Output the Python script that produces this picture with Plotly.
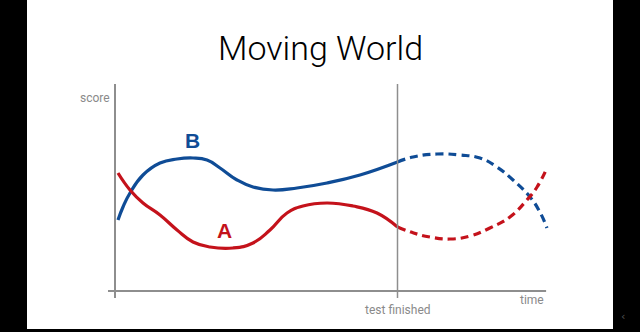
import plotly.graph_objects as go

# time units: 0 = y axis, 10 = "test finished"; score units: 0 = x axis
b_solid_t = [0.106, 0.283, 0.531, 0.991, 1.593, 2.195, 2.761, 3.257, 3.717, 4.319, 4.885, 5.593, 6.442, 7.504, 8.673, 10.0]
b_solid_s = [7.1, 8.4, 9.8, 11.6, 12.8, 13.2, 13.3, 13.1, 12.3, 11.1, 10.4, 10.1, 10.3, 10.8, 11.6, 12.9]
b_dash_t = [10.0, 10.55, 11.4, 12.21, 12.92, 13.52, 14.09, 14.69, 15.04, 15.29]
b_dash_s = [12.9, 13.4, 13.7, 13.6, 13.3, 12.4, 11.1, 9.4, 7.9, 6.3]

a_solid_t = [0.106, 0.531, 0.991, 1.593, 2.195, 2.761, 3.363, 4.177, 4.885, 5.487, 6.088, 6.655, 7.504, 8.425, 9.274, 10.0]
a_solid_s = [11.8, 10.1, 8.8, 7.6, 6.1, 4.9, 4.4, 4.3, 4.8, 6.1, 7.8, 8.5, 8.8, 8.5, 7.8, 6.4]
a_dash_t = [10.0, 10.57, 11.15, 11.86, 12.57, 13.27, 13.98, 14.58, 14.94, 15.29]
a_dash_s = [6.4, 5.8, 5.4, 5.2, 5.5, 6.3, 7.4, 9.1, 10.4, 12.3]

series_labels = ["A", "B"]
label_pos_t = [3.89, 2.73]
label_pos_s = [6.1, 15.1]

test_end = 10.0
axis_top = 20.7
axis_bottom = -0.7
x_axis_start = -0.248
x_axis_end = 15.26

BLUE = "#0f4c96"
RED = "#c4121b"
GRAY = "#8e8e8e"

fig = go.Figure()

def add_line(t, s, color, dash):
    fig.add_trace(go.Scatter(
        x=t, y=s, mode="lines",
        line=dict(color=color, width=3.2, shape="spline", smoothing=1.3, dash=dash),
        hoverinfo="skip", showlegend=False))

add_line(b_solid_t, b_solid_s, BLUE, "solid")
add_line(b_dash_t, b_dash_s, BLUE, "8px,5px")
add_line(a_solid_t, a_solid_s, RED, "solid")
add_line(a_dash_t, a_dash_s, RED, "8px,5px")

shapes = [
    # white slide area
    dict(type="rect", xref="paper", yref="paper", x0=27/640, x1=613/640, y0=3/332, y1=1.0,
         fillcolor="white", line=dict(width=0), layer="below"),
    # axes
    dict(type="line", xref="x", yref="y", x0=0, x1=0, y0=axis_bottom, y1=axis_top,
         line=dict(color=GRAY, width=2)),
    dict(type="line", xref="x", yref="y", x0=x_axis_start, x1=x_axis_end, y0=0, y1=0,
         line=dict(color=GRAY, width=2)),
    dict(type="line", xref="x", yref="y", x0=test_end, x1=test_end, y0=axis_bottom, y1=axis_top,
         line=dict(color=GRAY, width=1.5)),
]

annotations = [
    dict(text="Moving World", xref="paper", yref="paper", x=0.5, y=1 - 48/332,
         showarrow=False, xanchor="center", yanchor="middle",
         font=dict(family="Roboto", size=34, color="black", weight=300)),
    dict(text="score", xref="x", yref="paper", x=-0.1, y=1 - 98/332, showarrow=False,
         xanchor="right", yanchor="middle", font=dict(family="Roboto", size=12, color="#8a8a8a")),
    dict(text="time", xref="x", yref="paper", x=x_axis_end, y=1 - 300/332, showarrow=False,
         xanchor="right", yanchor="middle", font=dict(family="Roboto", size=12, color="#8a8a8a")),
    dict(text="test finished", xref="x", yref="paper", x=test_end, y=1 - 310/332, showarrow=False,
         xanchor="center", yanchor="middle", font=dict(family="Roboto", size=12, color="#8a8a8a")),
    dict(text="‹", xref="paper", yref="paper", x=623/640, y=1 - 316/332, showarrow=False,
         xanchor="center", yanchor="middle", font=dict(family="DejaVu Sans", size=11, color="#555555")),
]
for lab, t, s, c in zip(series_labels, label_pos_t, label_pos_s, [RED, BLUE]):
    annotations.append(dict(text=f"<b>{lab}</b>", x=t, y=s, xref="x", yref="y", showarrow=False,
                            xanchor="center", yanchor="middle",
                            font=dict(family="Liberation Sans", size=21, color=c)))

fig.update_layout(
    width=640, height=332,
    margin=dict(l=0, r=0, t=0, b=0),
    paper_bgcolor="black", plot_bgcolor="black",
    xaxis=dict(range=[-115/28.25, (640-115)/28.25], visible=False, fixedrange=True),
    yaxis=dict(range=[-4.1, 29.1], visible=False, fixedrange=True),
    shapes=shapes, annotations=annotations,
)

fig.write_html("out.html")
